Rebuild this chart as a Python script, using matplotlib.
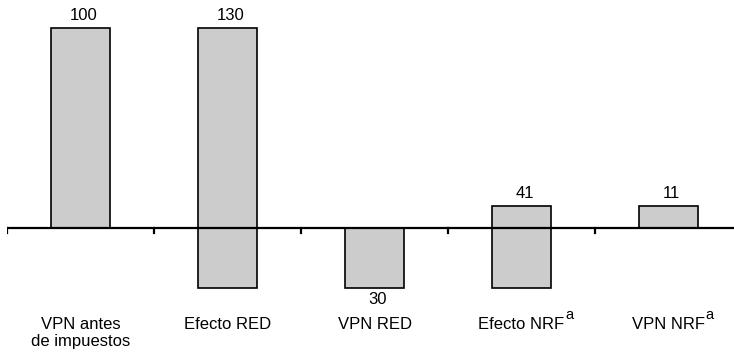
import matplotlib
matplotlib.use("Agg")
import matplotlib.pyplot as plt
import numpy as np

plt.rcParams["font.family"] = ["Liberation Sans", "DejaVu Sans"]

# Waterfall steps: label, footnote mark, change, and whether the bar is a running total
categories = ["VPN antes\nde impuestos", "Efecto RED", "VPN RED", "Efecto NRF", "VPN NRF"]
footnotes = ["", "", "", "a", "a"]
changes = [100, -130, -30, 41, 11]
is_total = [True, False, True, False, True]
value_labels = ["100", "130", "30", "41", "11"]

# Bottoms and heights of each bar
bottoms, heights = [], []
running = 0
for ch, tot in zip(changes, is_total):
    if tot:
        bottoms.append(0)
        heights.append(ch)
        running = ch
    else:
        bottoms.append(running)
        heights.append(ch)
        running += ch

fig = plt.figure(figsize=(7.34, 3.53), dpi=100)
ax = fig.add_axes([7 / 734, 0, 735 / 734, 1])
x = np.arange(len(categories))

ax.bar(x, heights, bottom=bottoms, width=0.4, color="#cccccc",
       edgecolor="black", linewidth=1.2, zorder=2)

# Zero line with tick marks between categories
ax.axhline(0, color="black", linewidth=1.6, zorder=3)
for b in np.arange(-0.5, len(categories), 1.0):
    ax.plot([b, b], [0, -2.6], color="black", linewidth=1.6, zorder=3)

# Value labels: above the bar for totals and the first effect, below for the negative total
for xi, b, h, lab in zip(x, bottoms, heights, value_labels):
    top = max(b, b + h)
    low = min(b, b + h)
    if h > 0 or lab == "130":
        ax.annotate(lab, (xi + 0.02, top), xytext=(0, 3.5), textcoords="offset points",
                    ha="center", va="bottom", fontsize=12)
    else:
        ax.annotate(lab, (xi + 0.02, low), xytext=(0, -3), textcoords="offset points",
                    ha="center", va="top", fontsize=12)

ax.set_xlim(-0.5, len(categories) - 0.5)
ax.set_ylim(-62.5, 114)
ax.axis("off")

fig.canvas.draw()
renderer = fig.canvas.get_renderer()
for xi, cat, fn in zip(x, categories, footnotes):
    t = ax.text(xi, -44.5, cat, ha="center", va="top", fontsize=12,
                linespacing=1.15)
    if fn:
        # footnote mark sits just above the cap line, right after the text
        bb = t.get_window_extent(renderer)
        ax.annotate(fn, (bb.x1, bb.y1), xycoords="figure pixels",
                    xytext=(0.5, -3.5), textcoords="offset points",
                    ha="left", va="bottom", fontsize=10.5)

fig.savefig("out.png", dpi=100)
